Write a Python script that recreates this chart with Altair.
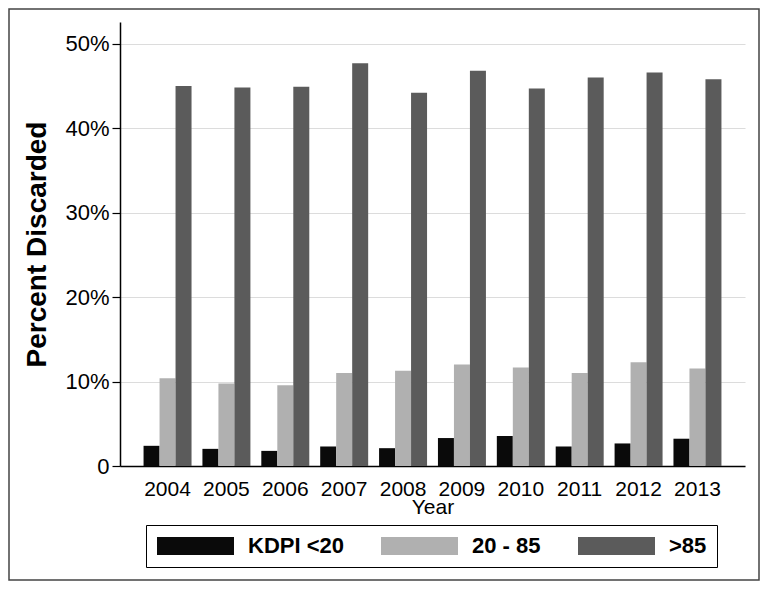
import altair as alt
import pandas as pd

years = ["2004", "2005", "2006", "2007", "2008", "2009", "2010", "2011", "2012", "2013"]
kdpi_low = [2.39, 2.03, 1.79, 2.31, 2.11, 3.31, 3.55, 2.31, 2.67, 3.23]
kdpi_mid = [10.4, 9.76, 9.56, 11.0, 11.27, 12.03, 11.67, 11.0, 12.27, 11.55]
kdpi_high = [45.0, 44.8, 44.9, 47.7, 44.2, 46.8, 44.7, 46.0, 46.6, 45.8]
groups = ["KDPI <20", "20 - 85", ">85"]
colors = ["#0a0a0a", "#b0b0b0", "#5b5b5b"]
y_ticks = [0, 0.1, 0.2, 0.3, 0.4, 0.5]

rows = []
for i, yr in enumerate(years):
    for g, vals in zip(groups, [kdpi_low, kdpi_mid, kdpi_high]):
        rows.append({"Year": yr, "Group": g, "Pct": vals[i] / 100})
df = pd.DataFrame(rows)

W, H = 625, 444

bars = alt.Chart(df).mark_bar(strokeWidth=0).encode(
    x=alt.X(
        "Year:N",
        title="Year",
        sort=years,
        scale=alt.Scale(paddingInner=0.185, paddingOuter=0.4),
        axis=alt.Axis(
            labelAngle=0, ticks=False, domainColor="black", domainWidth=1.5,
            labelFontSize=21, titleFontSize=21, labelPadding=12, titlePadding=-3,
            grid=False, labelColor="black", titleColor="black",
            titleFontWeight="normal",
        ),
    ),
    xOffset=alt.XOffset("Group:N", sort=groups,
                        scale=alt.Scale(paddingInner=0, paddingOuter=0)),
    y=alt.Y(
        "Pct:Q",
        title="Percent Discarded",
        scale=alt.Scale(domain=[0, 0.5257], nice=False, zero=True),
        axis=alt.Axis(
            values=y_ticks,
            labelExpr="datum.value == 0 ? '0' : format(datum.value, '.0%')",
            tickSize=8, tickColor="black", tickWidth=1.2,
            domainColor="black", domainWidth=1.5,
            labelFontSize=22, labelPadding=3, labelColor="black",
            titleFontSize=28, titleFontWeight="bold", titlePadding=13,
            titleColor="black",
            gridColor="#dcdcdc", gridWidth=1.2,
        ),
    ),
    color=alt.Color(
        "Group:N",
        sort=groups,
        scale=alt.Scale(domain=groups, range=colors),
        legend=alt.Legend(
            title=None, orient="none", legendX=26, legendY=503,
            direction="horizontal", columns=3,
            symbolType="M-1,-0.9L6.7,-0.9L6.7,0.9L-1,0.9Z",
            symbolSize=400, symbolStrokeWidth=0, symbolOpacity=1,
            labelFontSize=22, labelFontWeight="bold", labelColor="black",
            labelOffset=70, columnPadding=36, padding=10,
            strokeColor="black", fillColor="white", labelLimit=300,
        ),
    ),
)

frame = alt.Chart(pd.DataFrame({"f": [0]})).mark_rect(
    fillOpacity=0, stroke="#444444", strokeWidth=1.5
).encode(
    x=alt.value(-111), x2=alt.value(W + 14),
    y=alt.value(-13), y2=alt.value(H + 114),
)

chart = alt.layer(frame, bars).properties(
    width=W, height=H,
    padding={"left": 112, "top": 14, "right": 15, "bottom": 116},
    autosize=alt.AutoSizeParams(type="none"),
    background="white",
).configure(font="Liberation Sans").configure_view(stroke=None)

chart.save("out.html", embed_options={"renderer": "svg", "actions": False})
